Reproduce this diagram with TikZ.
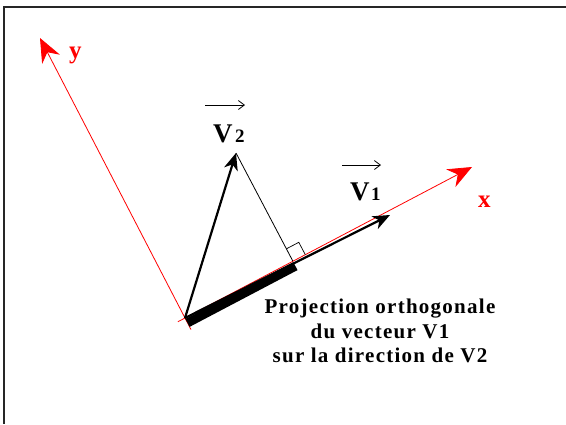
\documentclass[tikz,border=0pt]{standalone}
\usepackage{fontspec}
\setmainfont{Liberation Serif}
\usetikzlibrary{arrows.meta,calc}
\begin{document}
\begin{tikzpicture}[x=1pt,y=-1pt,
  axis/.style={red,line width=0.8pt},
  axistip/.style={-{Stealth[length=24pt,width=20pt,inset=8pt]}},
  vec/.style={line width=2.2pt,-{Stealth[length=17pt,width=14pt,inset=5pt]}},
  lbl/.style={font=\fontsize{27}{27}\selectfont\bfseries,inner sep=0pt,anchor=base west},
  axlbl/.style={font=\fontsize{25}{25}\selectfont\bfseries,inner sep=0pt,anchor=base west,red},
  sub/.style={font=\fontsize{19}{19}\selectfont\bfseries,inner sep=0pt,anchor=base west},
  over/.style={line width=0.8pt,-{Straight Barb[length=6pt,width=9pt]}}]
\useasboundingbox (0,0) rectangle (566,424);
% frame
\draw[line width=2pt,black!85] (566,7) -- (4,7) -- (4,424);
% points
\coordinate (O) at (185,318);
\coordinate (X) at (472,167);
\coordinate (Y) at (40,38);
\coordinate (V1) at (390,215);
\coordinate (V2) at (236,153);
\coordinate (F) at ($(O)!(V2)!(X)$);
\coordinate (Xb) at ($(O)!-8pt!(X)$);
\coordinate (Yb) at ($(O)!-13pt!(Y)$);
% axes
\draw[axis,axistip] (Xb) -- (X);
\draw[axis,axistip] (Yb) -- (Y);
\node[axlbl] (ylab) at (69,58) {y};
\node[axlbl] (xlab) at (478,207) {x};
% projection bar
\draw[line width=9pt] ($(O)+(2.5,4.9)$) -- ($(F)+(2.5,4.9)$);
% vectors
\draw[vec] (O) -- (V1);
\draw[vec] (O) -- (V2);
% perpendicular
\draw[line width=0.8pt] (V2) -- (F);
\draw[line width=0.7pt] ($(F)!14pt!(V2)$) -- ($(F)!14pt!(V2)+(F)!14pt!(X)-(F)$) -- ($(F)!14pt!(X)$);
% labels
\node[lbl] (v2V) at (213,142) {V};
\node[sub] (v2n) at (235,142) {2};
\draw[over] (205,105) -- (245,105);
\node[lbl] (v1V) at (350,200) {V};
\node[sub] (v1n) at (371,200) {1};
\draw[over] (342,165) -- (381,165);
% text
\node[font=\fontsize{21}{24.5}\selectfont\bfseries\addfontfeatures{LetterSpace=6},align=center,anchor=north,inner sep=0pt] (txt) at (380,299)
  {Projection orthogonale\\du vecteur V1\\sur la direction de V2};
\end{tikzpicture}
\end{document}
